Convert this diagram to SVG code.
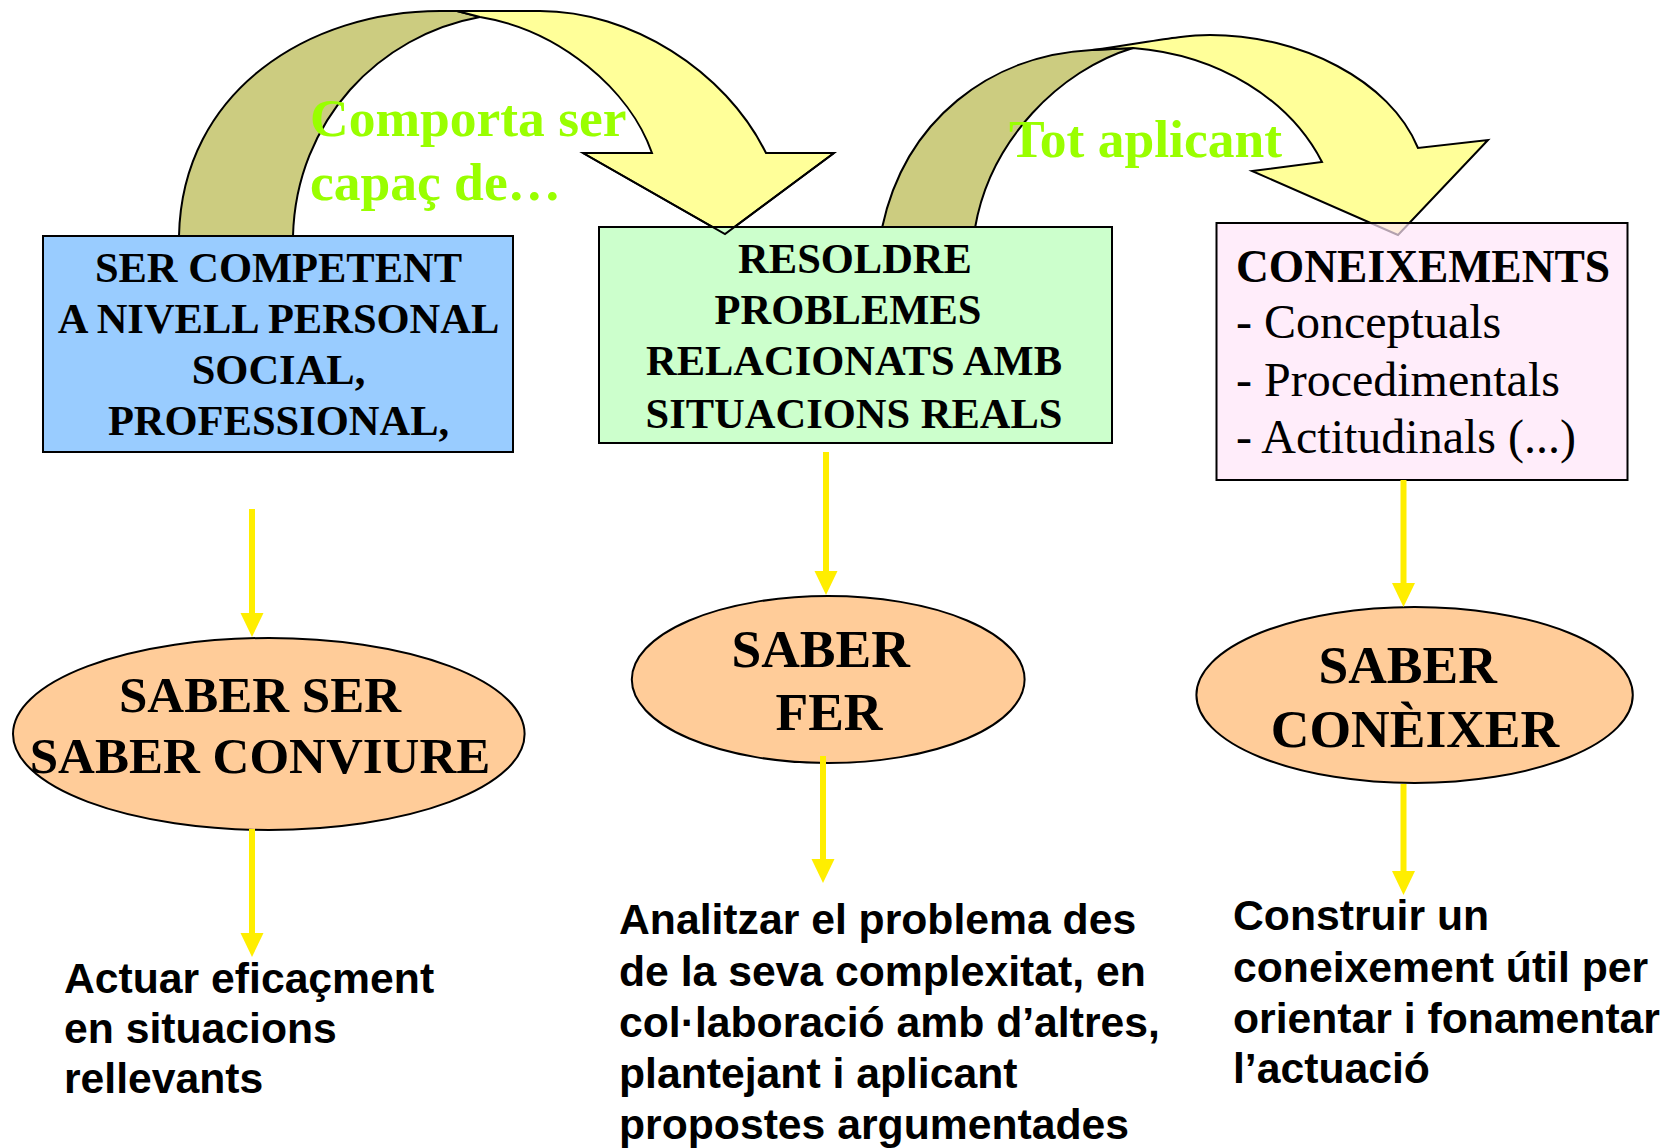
<svg xmlns="http://www.w3.org/2000/svg" width="1673" height="1148" viewBox="0 0 1673 1148">
  <style>
    .olive { fill: #CCCC80; stroke: #000; stroke-width: 2; stroke-linejoin: round; }
    .yel { fill: #FFFF99; stroke: #000; stroke-width: 2; stroke-linejoin: miter; }
    .box { stroke: #000; stroke-width: 2; }
    .ell { fill: #FFCC99; stroke: #000; stroke-width: 2; }
    .bt { font-family: "Liberation Serif", "Times New Roman", serif; font-weight: bold; font-size: 42.5px; fill: #000; text-anchor: middle; }
    .et { font-family: "Liberation Serif", "Times New Roman", serif; font-weight: bold; font-size: 53.5px; fill: #000; text-anchor: middle; }
    .lt { font-family: "Liberation Serif", "Times New Roman", serif; font-size: 48px; fill: #000; }
    .gt { font-family: "Liberation Serif", "Times New Roman", serif; font-weight: bold; font-size: 53.5px; fill: #99FF00; }
    .st { font-family: "Liberation Sans", Arial, sans-serif; font-weight: bold; font-size: 42.7px; fill: #000; }
    .conn { stroke: #FFEE00; stroke-width: 6; fill: none; marker-end: url(#ah); }
  </style>
  <defs>
    <marker id="ah" markerUnits="userSpaceOnUse" markerWidth="24" markerHeight="24" refX="12" refY="11.5" orient="auto" viewBox="0 0 24 23">
      <path d="M0,0 L24,11.5 L0,23 Z" fill="#FFEE00"/>
    </marker>
  </defs>
  <rect width="1673" height="1148" fill="#FFFFFF"/>

  <g id="curved-arrows">
    <g id="arrow-comporta">
      <path class="olive" d="M179,236 C182,90 310,11 440,11 L457,11 L480,17 C380,35 296,120 293,236 Z"/>
      <path class="yel" d="M457,11 L540,11 C630,11 725,70 766,153 L834,153 L725,234 L583,153 L652,153 C630,90 560,30 480,17 Z"/>
    </g>
    <g id="arrow-tot">
      <path class="olive" d="M882,228 C905,120 990,55 1092,50 L1133,48 C1060,70 990,140 975,228 Z"/>
      <path class="yel" d="M1092,50 C1150,42 1180,35 1210,35 C1300,35 1390,80 1418,148 L1488,140 L1398,235 L1252,171 L1322,162 C1290,100 1220,55 1133,48 Z"/>
    </g>
    <text class="gt" x="310" y="136">Comporta ser</text>
    <text class="gt" x="310" y="200">capaç de…</text>
    <text class="gt" x="1009" y="157">Tot aplicant</text>
  </g>

  <g id="node-competent">
    <rect class="box" x="43" y="236" width="470" height="216" fill="#99CCFF"/>
    <text class="bt" x="278.5" y="282">SER COMPETENT</text>
    <text class="bt" x="278.5" y="333">A NIVELL PERSONAL</text>
    <text class="bt" x="278.5" y="384">SOCIAL,</text>
    <text class="bt" x="278.5" y="435">PROFESSIONAL,</text>
  </g>

  <g id="node-resoldre">
    <rect class="box" x="599" y="227" width="513" height="216" fill="#CCFFCC"/>
    <text class="bt" x="855" y="273">RESOLDRE</text>
    <text class="bt" x="848" y="324">PROBLEMES</text>
    <text class="bt" x="854" y="375">RELACIONATS AMB</text>
    <text class="bt" x="854" y="428">SITUACIONS REALS</text>
  </g>

  <g id="arrow-comporta-tip">
    <polyline points="583,153 725,234 834,153" fill="none" stroke="#000" stroke-width="2"/>
    <line x1="599" y1="227" x2="1112" y2="227" stroke="#000" stroke-width="2"/>
  </g>

  <g id="node-coneixements">
    <rect class="box" x="1216.5" y="223" width="411" height="257" fill="#FFE6F8" fill-opacity="0.7" stroke="#333"/>
    <text class="bt" x="1236" y="282" style="text-anchor:start;font-size:45.5px">CONEIXEMENTS</text>
    <text class="lt" x="1236" y="338">- Conceptuals</text>
    <text class="lt" x="1236" y="396">- Procedimentals</text>
    <text class="lt" x="1236" y="453">- Actitudinals (...)</text>
  </g>

  <g id="node-saber-ser">
    <ellipse class="ell" cx="268.8" cy="734" rx="255.8" ry="96"/>
    <text class="et" x="260" y="712" style="font-size:51px">SABER SER</text>
    <text class="et" x="260" y="773" style="font-size:51px">SABER CONVIURE</text>
  </g>

  <g id="node-saber-fer">
    <ellipse class="ell" cx="828.2" cy="679.5" rx="196.4" ry="83.5"/>
    <text class="et" x="820.7" y="667">SABER</text>
    <text class="et" x="829" y="730">FER</text>
  </g>

  <g id="node-saber-coneixer">
    <ellipse class="ell" cx="1414.6" cy="695" rx="218.2" ry="88"/>
    <text class="et" x="1407.7" y="683">SABER</text>
    <text class="et" x="1415" y="747">CONÈIXER</text>
  </g>

  <g id="node-actuar">
    <text class="st" x="64" y="993">Actuar eficaçment</text>
    <text class="st" x="64" y="1043">en situacions</text>
    <text class="st" x="64" y="1093">rellevants</text>
  </g>

  <g id="node-analitzar">
    <text class="st" x="619" y="934">Analitzar el problema des</text>
    <text class="st" x="619" y="986">de la seva complexitat, en</text>
    <text class="st" x="619" y="1037">col·laboració amb d’altres,</text>
    <text class="st" x="619" y="1088">plantejant i aplicant</text>
    <text class="st" x="619" y="1139">propostes argumentades</text>
  </g>

  <g id="node-construir">
    <text class="st" x="1233" y="930">Construir un</text>
    <text class="st" x="1233" y="982">coneixement útil per</text>
    <text class="st" x="1233" y="1033">orientar i fonamentar</text>
    <text class="st" x="1233" y="1083">l’actuació</text>
  </g>

  <g id="connectors">
    <line class="conn" x1="252" y1="509" x2="252" y2="625"/>
    <line class="conn" x1="252" y1="829" x2="252" y2="945"/>
    <line class="conn" x1="826" y1="452" x2="826" y2="583"/>
    <line class="conn" x1="823" y1="756" x2="823" y2="871"/>
    <line class="conn" x1="1403.5" y1="480" x2="1403.5" y2="595"/>
    <line class="conn" x1="1403.5" y1="784" x2="1403.5" y2="883"/>
  </g>
</svg>
